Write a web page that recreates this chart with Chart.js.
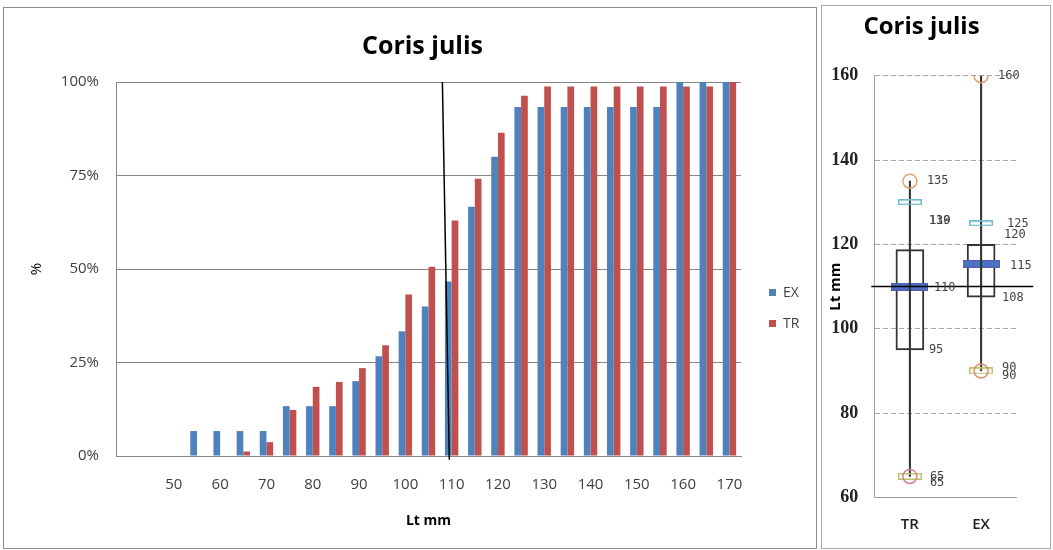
<!DOCTYPE html>
<html>
<head>
<meta charset="utf-8">
<title>Coris julis</title>
<script src="https://cdn.jsdelivr.net/npm/chart.js@4.4.1/dist/chart.umd.min.js"></script>
<style>
  html, body { margin: 0; padding: 0; background: #fff; overflow: hidden; }
  #page { position: relative; width: 1053px; height: 550px; }
  .frame { position: absolute; box-sizing: border-box; border: 1px solid #8c8c8c; }
  #frameLeft { left: 3px; top: 7px; width: 814px; height: 542px; }
  #frameRight { left: 821px; top: 5px; width: 230px; height: 544px; border-color: #a8a8a8; }
  #leftBox { position: absolute; left: 0; top: 0; width: 816px; height: 550px; }
  #rightBox { position: absolute; left: 818px; top: 0; width: 235px; height: 550px; }
</style>
</head>
<body>
<div id="page">
  <div class="frame" id="frameLeft"></div>
  <div class="frame" id="frameRight"></div>
  <div id="leftBox"><canvas id="cumChart"></canvas></div>
  <div id="rightBox"><canvas id="boxChart"></canvas></div>
</div>
<script>
// cumulative length frequency (%), classes of 5 mm
const lengthClasses = ['40', '45', '50', '55', '60', '65', '70', '75', '80', '85', '90', '95', '100', '105',
                       '110', '115', '120', '125', '130', '135', '140', '145', '150', '155', '160', '165', '170'];
const shownTicks = ['50', '60', '70', '80', '90', '100', '110', '120', '130', '140', '150', '160', '170'];
const exPct = [null, null, null, 6.67, 6.67, 6.67, 6.67, 13.33, 13.33, 13.33, 20, 26.67, 33.33, 40,
               46.67, 66.67, 80, 93.33, 93.33, 93.33, 93.33, 93.33, 93.33, 93.33, 100, 100, 100];
const trPct = [null, null, null, null, null, 1.2, 3.7, 12.3, 18.5, 19.8, 23.5, 29.6, 43.2, 50.6,
               63.0, 74.1, 86.4, 96.3, 98.8, 98.8, 98.8, 98.8, 98.8, 98.8, 98.8, 98.8, 100];
const cutLine = [[108, 100], [109.5, -1]]; // [Lt mm, %]

// box plot (Lt mm)
const groups = ['TR', 'EX'];
const whiskerLow = [65, 90];
const whiskerHigh = [135, 160];
const boxLow = [95, 107.5];
const boxHigh = [118.75, 120];
const medians = [110, 115.4];
const upperMark = [130, 125];
const lowerMark = [65, 90];
const refLength = 110;

const leftDecor = {
    id: 'leftDecor',
    afterDatasetsDraw(chart) {
        const {ctx, scales: {x, y}} = chart;
        const first = Number(lengthClasses[0]);
        const step = Number(lengthClasses[1]) - first;
        const toX = mm => x.getPixelForValue((mm - first) / step);
        ctx.save();
        ctx.strokeStyle = '#000';
        ctx.lineWidth = 1.5;
        ctx.beginPath();
        ctx.moveTo(toX(cutLine[0][0]), y.getPixelForValue(cutLine[0][1]));
        ctx.lineTo(toX(cutLine[1][0]), y.getPixelForValue(cutLine[1][1]));
        ctx.stroke();
        ctx.restore();
    },
    afterDraw(chart) {
        const ctx = chart.ctx;
        ctx.save();
        ctx.fillStyle = '#000';
        ctx.font = 'bold 25px "Open Sans"';
        ctx.textAlign = 'center';
        ctx.textBaseline = 'middle';
        ctx.fillText('Coris julis', 422.5, 47);
        // legend
        ctx.font = '14px "Open Sans"';
        ctx.textAlign = 'left';
        chart.data.datasets.forEach((ds, i) => {
            ctx.fillStyle = ds.backgroundColor;
            ctx.fillRect(769, 289 + i * 31, 7, 7);
            ctx.fillStyle = '#404040';
            ctx.fillText(ds.label, 783, 293 + i * 31);
        });
        ctx.restore();
    }
};

new Chart(document.getElementById('cumChart'), {
    type: 'bar',
    data: {
        labels: lengthClasses,
        datasets: [{
            label: 'EX',
            data: exPct,
            backgroundColor: '#4f81bd'
        }, {
            label: 'TR',
            data: trPct,
            backgroundColor: '#c0504d'
        }]
    },
    options: {
        responsive: true,
        maintainAspectRatio: false,
        animation: false,
        events: [],
        layout: { padding: { top: 82, right: 75, left: 0, bottom: 0 } },
        datasets: { bar: { categoryPercentage: 0.58, barPercentage: 1 } },
        plugins: {
            legend: { display: false },
            title: { display: false },
            tooltip: { enabled: false }
        },
        scales: {
            x: {
                grid: { display: false, drawTicks: false },
                border: { color: '#868686' },
                ticks: {
                    autoSkip: false,
                    maxRotation: 0,
                    padding: 20,
                    color: '#404040',
                    font: { family: 'Open Sans', size: 15 },
                    callback: function (val) {
                        const lab = this.getLabelForValue(val);
                        return shownTicks.includes(lab) ? lab : '';
                    }
                },
                title: {
                    display: true,
                    text: 'Lt mm',
                    color: '#000',
                    font: { family: 'Open Sans', size: 14, weight: 'bold' },
                    padding: { top: 0, bottom: 20.5 }
                },
                afterFit(s) { s.height = 94; }
            },
            y: {
                min: 0,
                max: 100,
                grid: { color: '#868686', drawTicks: false },
                border: { color: '#868686' },
                ticks: {
                    stepSize: 25,
                    padding: 17,
                    color: '#404040',
                    font: { family: 'Open Sans', size: 15 },
                    callback: v => v + '%'
                },
                title: {
                    display: true,
                    text: '%',
                    color: '#000',
                    font: { family: 'Open Sans', size: 15 },
                    padding: { top: 28, bottom: 0 }
                },
                afterFit(s) { s.width = 116; }
            }
        }
    },
    plugins: [leftDecor]
});

function markImage(w, h, fill, stroke, lw) {
    const c = document.createElement('canvas');
    c.width = w;
    c.height = h;
    const g = c.getContext('2d');
    if (fill) {
        g.fillStyle = fill;
        g.fillRect(0, 0, w, h);
    }
    if (stroke) {
        g.strokeStyle = stroke;
        g.lineWidth = lw;
        g.strokeRect(lw / 2, lw / 2, w - lw, h - lw);
    }
    return c;
}

const medianMark = markImage(37, 8, '#4a70c8', '#5b5aa6', 1);
const upperImg = markImage(24, 6, null, '#70bcc6', 1.5);
const lowerImg = markImage(24, 7, null, '#b9c46c', 1.5);

const valueTags = [
    { src: whiskerHigh, i: 0, dx: 17, dy: 0 },
    { src: upperMark, i: 0, dx: 19, dy: 19 },
    { src: boxHigh, i: 0, dx: 19, dy: -28.5 },
    { src: medians, i: 0, dx: 24, dy: 1.5 },
    { src: boxLow, i: 0, dx: 19, dy: 0.5 },
    { src: lowerMark, i: 0, dx: 20, dy: 0.5 },
    { src: whiskerLow, i: 0, dx: 20, dy: 6 },
    { src: whiskerHigh, i: 1, dx: 17, dy: 0 },
    { src: upperMark, i: 1, dx: 26, dy: 1 },
    { src: boxHigh, i: 1, dx: 23, dy: -10 },
    { src: medians, i: 1, dx: 29, dy: 2 },
    { src: boxLow, i: 1, dx: 21, dy: 0.5 },
    { src: lowerMark, i: 1, dx: 21, dy: -3 },
    { src: whiskerLow, i: 1, dx: 21, dy: 5 }
];

const boxDecor = {
    id: 'boxDecor',
    afterDatasetsDraw(chart) {
        const {ctx, chartArea, scales: {x, y}} = chart;
        ctx.save();
        // reference length
        const yr = y.getPixelForValue(refLength);
        ctx.strokeStyle = '#000';
        ctx.lineWidth = 1.5;
        ctx.beginPath();
        ctx.moveTo(chartArea.left - 3, yr);
        ctx.lineTo(chartArea.right + 16.5, yr);
        ctx.stroke();
        // value tags
        ctx.font = '12px "DejaVu Sans Mono"';
        ctx.fillStyle = '#444';
        ctx.textAlign = 'left';
        ctx.textBaseline = 'middle';
        valueTags.forEach(t => {
            const v = t.src[t.i];
            ctx.fillText(String(Math.round(v)), x.getPixelForValue(t.i) + t.dx, y.getPixelForValue(v) + t.dy);
        });
        ctx.restore();
    }
};

new Chart(document.getElementById('boxChart'), {
    type: 'bar',
    data: {
        labels: groups,
        datasets: [{
            type: 'line',
            label: 'max',
            data: whiskerHigh,
            showLine: false,
            pointStyle: 'circle',
            pointRadius: 7,
            pointBorderWidth: 1.5,
            pointBorderColor: '#e2a272',
            pointBackgroundColor: 'rgba(0,0,0,0)',
            order: 0
        }, {
            type: 'line',
            label: 'min',
            data: whiskerLow,
            showLine: false,
            pointStyle: 'circle',
            pointRadius: 7,
            pointBorderWidth: 1.5,
            pointBorderColor: ['#d9808c', '#dc8f70'],
            pointBackgroundColor: 'rgba(0,0,0,0)',
            order: 0
        }, {
            type: 'line',
            label: 'upper',
            data: upperMark,
            showLine: false,
            pointStyle: upperImg,
            order: 1
        }, {
            type: 'line',
            label: 'lower',
            data: lowerMark,
            showLine: false,
            pointStyle: lowerImg,
            order: 1
        }, {
            label: 'whisker',
            data: groups.map((g, i) => [whiskerLow[i], whiskerHigh[i]]),
            backgroundColor: '#333',
            barThickness: 1.4,
            grouped: false,
            order: 2
        }, {
            type: 'line',
            label: 'median',
            data: medians,
            showLine: false,
            pointStyle: medianMark,
            order: 3
        }, {
            label: 'box',
            data: groups.map((g, i) => [boxLow[i], boxHigh[i]]),
            backgroundColor: 'rgba(255,255,255,0)',
            borderColor: '#333',
            borderWidth: 1.3,
            borderSkipped: false,
            barThickness: 28,
            grouped: false,
            order: 4
        }]
    },
    options: {
        responsive: true,
        maintainAspectRatio: false,
        animation: false,
        events: [],
        layout: { padding: { top: 0, right: 36.3, left: 8.3, bottom: 0 } },
        plugins: {
            legend: { display: false },
            tooltip: { enabled: false },
            title: {
                display: true,
                text: 'Coris julis',
                color: '#000',
                font: { family: 'Open Sans', size: 24, weight: 'bold' },
                padding: { top: 12.3, bottom: 34.6 }
            }
        },
        scales: {
            x: {
                grid: { display: false, drawTicks: false },
                border: { color: '#a0a0a0' },
                ticks: {
                    padding: 18,
                    color: '#222',
                    font: { family: 'Open Sans', size: 15, weight: 600 }
                },
                afterFit(s) { s.height = 52.5; }
            },
            y: {
                min: 60,
                max: 160,
                grid: { color: '#a6a6a6', drawTicks: false },
                border: { color: '#a0a0a0', dash: [5, 3] },
                ticks: {
                    stepSize: 20,
                    padding: 16,
                    color: '#222',
                    font: { family: 'Liberation Serif', size: 18, weight: 'bold' }
                },
                title: {
                    display: true,
                    text: 'Lt mm',
                    color: '#000',
                    font: { family: 'Open Sans', size: 15, weight: 'bold' },
                    padding: { top: 0, bottom: 0 }
                },
                afterFit(s) { s.width = 48; }
            }
        }
    },
    plugins: [boxDecor]
});
</script>
</body>
</html>
